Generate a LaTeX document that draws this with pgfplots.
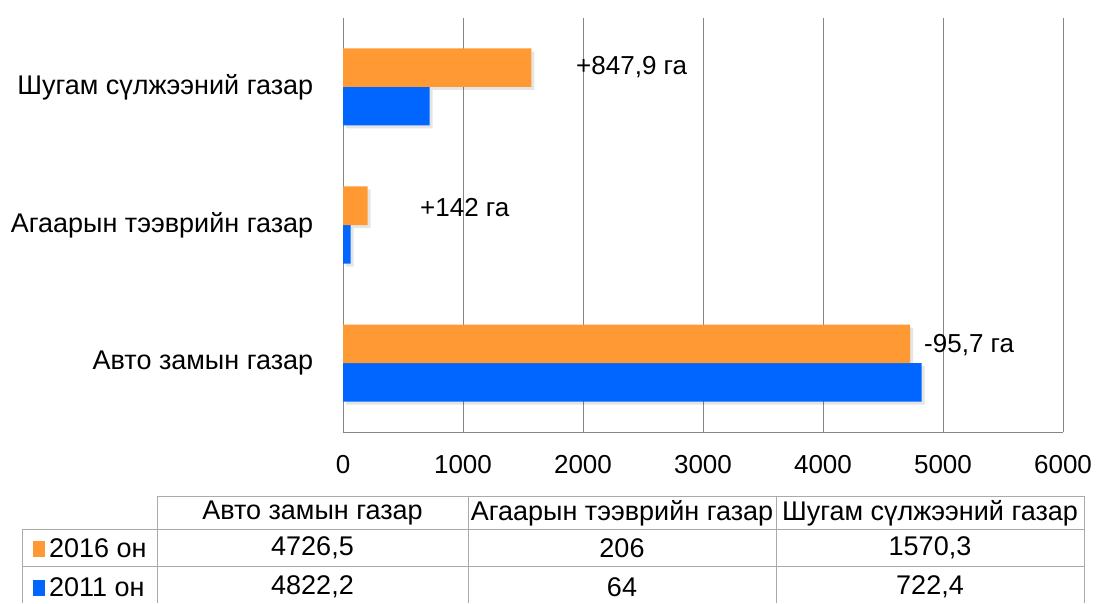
\documentclass[border=0pt]{standalone}
\usepackage{pgfplots}
\pgfplotsset{compat=1.18}
\usepackage{fontspec}
\setmainfont{Liberation Sans}
\definecolor{orng}{RGB}{255,153,51}
\definecolor{blu}{RGB}{0,102,255}
\definecolor{gridgray}{RGB}{134,134,134}
\definecolor{tblgray}{RGB}{170,170,170}
\newcommand{\F}{\fontsize{26}{31}\selectfont}
\newcommand{\G}{\fontsize{27}{32}\selectfont}
\begin{document}
\begin{tikzpicture}[x=1pt,y=1pt]
\useasboundingbox (0,0) rectangle (1097,603);
\begin{axis}[
  at={(343pt,171pt)}, anchor=south west,
  scale only axis, width=720pt, height=414pt,
  xmin=0, xmax=6000, ymin=-0.5, ymax=2.5,
  xbar, bar width=38.5pt,
  ytick={0,1,2},
  yticklabels={Авто замын газар, Агаарын тээврийн газар, Шугам сүлжээний газар},
  xtick={0,1000,2000,3000,4000,5000,6000},
  /pgf/number format/1000 sep={},
  /pgf/number format/assume math mode=true,
  xmajorgrids, grid style={gridgray, line width=0.8pt},
  axis lines*=left, axis line style={gridgray, line width=0.8pt},
  tick style={draw=none},
  ticklabel style={font=\F, text=black},
  yticklabel style={xshift=-22pt, font=\G},
  xticklabel style={yshift=-20pt},
  clip=false,
]
\addplot[fill=black, opacity=0.10, draw=none, bar shift=-19.25pt, xshift=3pt, yshift=-3pt, forget plot] coordinates {(4822.2,0) (64,1) (722.4,2)};
\addplot[fill=black, opacity=0.10, draw=none, bar shift=19.25pt, xshift=3pt, yshift=-3pt, forget plot] coordinates {(4726.5,0) (206,1) (1570.3,2)};
\addplot[fill=blu, draw=none, bar shift=-19.25pt] coordinates {(4822.2,0) (64,1) (722.4,2)};
\addplot[fill=orng, draw=none, bar shift=19.25pt] coordinates {(4726.5,0) (206,1) (1570.3,2)};
\node[anchor=west, font=\F, inner sep=0pt] at (axis cs:1942,2.145) {+847,9 га};
\node[anchor=west, font=\F, inner sep=0pt] at (axis cs:642,1.13) {+142 га};
\node[anchor=west, font=\F, inner sep=0pt] at (axis cs:4842,0.13) {-95,7 га};
\end{axis}
% data table
\begin{scope}[draw=tblgray, line width=0.8pt]
\draw (157,107) -- (1084,107);
\draw (22,74) -- (1084,74);
\draw (22,37) -- (1084,37);
\draw (157,107) -- (157,0);
\draw (468,107) -- (468,0);
\draw (776,107) -- (776,0);
\draw (1084,107) -- (1084,0);
\draw (22,74) -- (22,0);
\end{scope}
\node[font=\G] at (312.5,90) {Авто замын газар};
\node[font=\G] at (622,90) {Агаарын тээврийн газар};
\node[font=\G] at (930,90) {Шугам сүлжээний газар};
\fill[orng] (33,46) rectangle (45,62);
\fill[blu] (33,7) rectangle (45,23);
\node[font=\G, anchor=west, inner sep=0pt] at (49,55) {2016 он};
\node[font=\G, anchor=west, inner sep=0pt] at (49,16) {2011 он};
\node[font=\G] at (312.5,55) {4726,5};
\node[font=\G] at (622,55) {206};
\node[font=\G] at (930,55) {1570,3};
\node[font=\G] at (312.5,16) {4822,2};
\node[font=\G] at (622,16) {64};
\node[font=\G] at (930,16) {722,4};
\end{tikzpicture}
\end{document}
